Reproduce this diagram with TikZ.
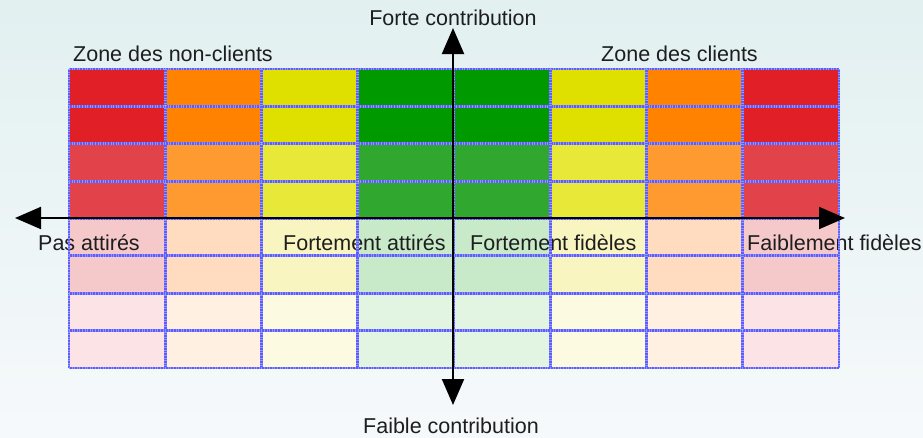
\documentclass[tikz,border=0pt]{standalone}
\usepackage{fontspec}
\setmainfont{Liberation Sans}
\usetikzlibrary{arrows.meta}
\definecolor{bgtop}{RGB}{226,240,240}
\definecolor{bgbot}{RGB}{246,249,251}
\definecolor{redA}{RGB}{224,31,38}
\definecolor{redB}{RGB}{226,66,74}
\definecolor{redC}{RGB}{245,200,202}
\definecolor{redD}{RGB}{252,228,230}
\definecolor{orangeA}{RGB}{255,130,0}
\definecolor{orangeB}{RGB}{255,154,48}
\definecolor{orangeC}{RGB}{255,220,192}
\definecolor{orangeD}{RGB}{255,240,226}
\definecolor{yellowA}{RGB}{224,224,0}
\definecolor{yellowB}{RGB}{232,232,56}
\definecolor{yellowC}{RGB}{248,245,192}
\definecolor{yellowD}{RGB}{252,251,226}
\definecolor{greenA}{RGB}{0,154,0}
\definecolor{greenB}{RGB}{48,168,48}
\definecolor{greenC}{RGB}{200,234,200}
\definecolor{greenD}{RGB}{226,244,226}
\definecolor{gridblue}{RGB}{92,92,255}
\definecolor{txt}{RGB}{30,30,30}
\begin{document}
\begin{tikzpicture}[x=1pt,y=-1pt,
  lbl/.style={font=\fontsize{21.5}{24}\selectfont, text=txt, inner sep=0pt},
  gridline/.style={draw=gridblue, line width=2.8pt},
  griddots/.style={draw=white, line width=2.8pt, dash pattern=on 1pt off 1.6pt, opacity=0.35},
  axisline/.style={line width=2pt, draw=black, {Triangle[length=26pt,width=22pt]}-{Triangle[length=26pt,width=22pt]}}]
\useasboundingbox (0,0) rectangle (923,437);
\shade[top color=bgtop, bottom color=bgbot] (0,0) rectangle (923,437);
% cells
\foreach \c/\n in {0/red,1/orange,2/yellow,3/green,4/green,5/yellow,6/orange,7/red}{
  \foreach \r/\l in {0/A,1/A,2/B,3/B,4/C,5/C,6/D,7/D}{
    \fill[\n\l] (69+\c*96.25, 69+\r*37.375) rectangle ++(96.25,37.375);
  }
}
% labels
\node[lbl, anchor=base west] (nonclients) at (73,61) {Zone des non-clients};
\node[lbl, anchor=base west] (clients) at (601,61) {Zone des clients};
\node[lbl, anchor=base] (forte) at (453,25) {Forte contribution};
\node[lbl, anchor=base] (faible) at (451,433) {Faible contribution};
\node[lbl, anchor=base west] (pas) at (38,250) {Pas attirés};
\node[lbl, anchor=base west] (fattires) at (283,250) {Fortement attirés};
\node[lbl, anchor=base west] (ffideles) at (470,250) {Fortement fidèles};
\node[lbl, anchor=base west] (faibfideles) at (747,250) {Faiblement fidèles};
% grid lines
\foreach \i in {0,...,8}{
  \draw[gridline] (69+\i*96.25,69) -- (69+\i*96.25,368);
  \draw[gridline] (69,69+\i*37.375) -- (839,69+\i*37.375);
  \draw[griddots] (69+\i*96.25,69) -- (69+\i*96.25,368);
  \draw[griddots] (69,69+\i*37.375) -- (839,69+\i*37.375);
}
% axes
\coordinate (L) at (15,218);
\coordinate (R) at (845,218);
\coordinate (T) at (453,28);
\coordinate (B) at (453,405);
\draw[axisline] (L) -- (R);
\draw[axisline] (T) -- (B);
\end{tikzpicture}
\end{document}
